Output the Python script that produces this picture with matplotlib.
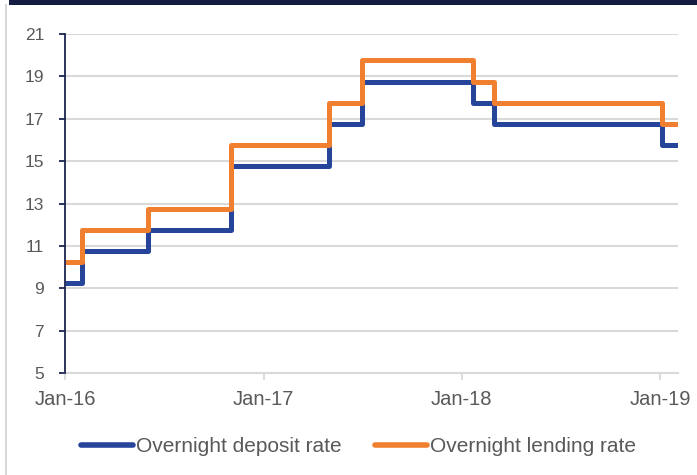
import matplotlib
matplotlib.use("Agg")
import matplotlib.pyplot as plt
import matplotlib.dates as mdates
from matplotlib.lines import Line2D
import numpy as np
import pandas as pd

# Data: policy rate change dates (step-post) and values
change_dates = ["2016-01-01", "2016-02-01", "2016-06-01", "2016-11-01", "2017-05-01",
                "2017-07-01", "2018-01-22", "2018-03-01", "2019-01-05", "2019-02-03"]
deposit_rate = [9.25, 10.75, 11.75, 14.75, 16.75, 18.75, 17.75, 16.75, 15.75, 15.75]
lending_rate = [10.25, 11.75, 12.75, 15.75, 17.75, 19.75, 18.75, 17.75, 16.75, 16.75]
series_labels = ["Overnight deposit rate", "Overnight lending rate"]
y_ticks = [5, 7, 9, 11, 13, 15, 17, 19, 21]
x_tick_dates = ["2016-01-01", "2017-01-01", "2018-01-01", "2019-01-01"]
x_tick_labels = ["Jan-16", "Jan-17", "Jan-18", "Jan-19"]

dates = pd.to_datetime(change_dates)

plt.rcParams['font.family'] = ['Liberation Sans', 'DejaVu Sans']

fig = plt.figure(figsize=(6.97, 4.75), dpi=100)
ax = fig.add_axes([65/697, 1-373/475, (678-65)/697, (373-34)/475])

blue = "#25449A"
orange = "#F07F2F"
ax.step(dates, deposit_rate, where="post", color=blue, lw=3.6,
        solid_joinstyle="round", solid_capstyle="butt", zorder=3)
ax.step(dates, lending_rate, where="post", color=orange, lw=3.6,
        solid_joinstyle="round", solid_capstyle="butt", zorder=4)

ax.set_xlim(dates[0], dates[-1])
ax.set_ylim(5, 21)
ax.set_yticks(y_ticks)
ax.set_xticks(pd.to_datetime(x_tick_dates))
ax.set_xticklabels(x_tick_labels)

ax.grid(axis="y", color="#D9D9D9", lw=1.5)
ax.set_axisbelow(True)
for s in ["top", "right"]:
    ax.spines[s].set_visible(False)
ax.spines["left"].set_color("#1B2450")
ax.spines["left"].set_linewidth(1.3)
ax.spines["left"].set_zorder(5)
ax.spines["bottom"].set_color("#D9D9D9")
ax.spines["bottom"].set_linewidth(1.5)

ax.tick_params(axis="y", colors="#1B2450", length=4, width=1.3, pad=11,
               labelsize=12.5, labelcolor="#595959")
ax.tick_params(axis="x", colors="#D9D9D9", length=5, width=1.3, pad=7,
               labelsize=14.5, labelcolor="#595959")

handles = [Line2D([], [], color=blue, lw=4, solid_capstyle="round"),
           Line2D([], [], color=orange, lw=4, solid_capstyle="round")]
leg = fig.legend(handles, series_labels, loc="center", bbox_to_anchor=(0.514, 1-447/475),
                 ncol=2, frameon=False, fontsize=15, handlelength=2.5,
                 handletextpad=0.15, columnspacing=1.6, labelcolor="#595959")

# frame decorations: dark top bar and light left border
fig.add_artist(plt.Rectangle((9/697, 1-5/475), 1, 5/475, transform=fig.transFigure,
                             color="#141C42", lw=0))
fig.add_artist(Line2D([6/697, 6/697], [0, 1-5/475], transform=fig.transFigure,
                      color="#D9D9D9", lw=1.5))

fig.savefig("out.png", dpi=100)
